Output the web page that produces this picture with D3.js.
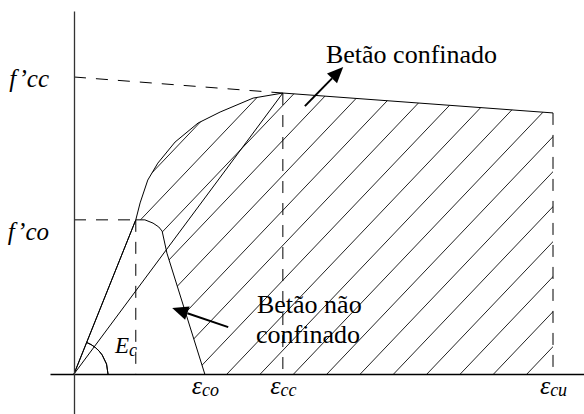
<!DOCTYPE html>
<html>
<head>
<meta charset="utf-8">
<script src="https://cdn.jsdelivr.net/npm/d3@7"></script>
<style>
  html, body { margin: 0; padding: 0; background: #fff; }
  svg { display: block; }
  .curve { fill: none; stroke: #000; stroke-width: 1; }
  .hatch { stroke: #222; stroke-width: 1; }
  .guide { fill: none; stroke: #000; stroke-width: 1; stroke-dasharray: 12 10; }
</style>
</head>
<body>
<div id="chart"></div>
<script>
// Values (strain and stress in relative units, 100 = eps_cu / f'cc)
const confinedStrain = [0, 12.9, 13.8, 15.4, 17.5, 21.1, 25.9, 30.5, 37.4, 43.6, 100];
const confinedStress = [0, 51.9, 57.6, 65.3, 71.0, 78.1, 84.5, 88.2, 92.9, 94.6, 87.9];
const unconfinedStrain = [0, 12.9, 14.8, 16.5, 17.7, 18.4, 19.4, 27.3];
const unconfinedStress = [0, 51.9, 51.9, 50.8, 49.5, 48.1, 40.7, 0];

const strainTicks = [27.3, 43.6, 100];
const strainLabels = [['ε', 'co'], ['ε', 'cc'], ['ε', 'cu']];
const stressTicks = [100, 51.9];
const stressLabels = ['f’cc', 'f’co'];

const peakStrain = 43.6, peakStress = 94.6;       // eps_cc, top of the confined curve
const fcoStrain = 12.9, fcoStress = 51.9;         // top of the unconfined curve
const fccLevel = 100;
const endStrain = 100, endStress = 87.9;

const width = 584, height = 414;
const serif = "'Liberation Serif'";

const x = d3.scaleLinear().domain([0, 100]).range([74, 553]);
const y = d3.scaleLinear().domain([0, 100]).range([374, 77]);

const svg = d3.select('#chart').append('svg')
    .attr('width', width)
    .attr('height', height);

const toPts = (xs, ys) => xs.map((d, i) => [d, ys[i]]);
const confined = toPts(confinedStrain, confinedStress);
const unconfined = toPts(unconfinedStrain, unconfinedStress);

const line = d3.line().x(d => x(d[0])).y(d => y(d[1]));

// Hatched zone between the two curves
const zone = confined.concat([[endStrain, 0]], unconfined.slice().reverse());
svg.append('clipPath').attr('id', 'zone')
    .append('path').attr('d', line(zone) + 'Z');

const hatchStart = x(31.94), hatchStep = 33.33, hatchSlope = 1.05;
const hatch = svg.append('g').attr('clip-path', 'url(#zone)');
for (let k = -9; k <= 10; k++) {
    const b = hatchStart + k * hatchStep;
    hatch.append('line')
        .attr('class', 'hatch')
        .attr('x1', b).attr('y1', y(0))
        .attr('x2', b + 420 / hatchSlope).attr('y2', y(0) - 420);
}

// Dashed guides
const guides = [
    [[0, fccLevel], [peakStrain, peakStress]],
    [[0, fcoStress], [fcoStrain, fcoStress]],
    [[fcoStrain, fcoStress], [fcoStrain, 0]],
    [[peakStrain, peakStress], [peakStrain, 0]],
    [[endStrain, endStress], [endStrain, 0]]
];
svg.selectAll('.guide').data(guides).join('path')
    .attr('class', 'guide')
    .attr('d', line);

// Curves
svg.append('path').attr('class', 'curve').attr('d', line(confined));
svg.append('path').attr('class', 'curve').attr('d', line(unconfined));
svg.append('path').attr('class', 'curve')
    .attr('d', line([[0, 0], [peakStrain, peakStress]]));

// Ec angle arc
const ecAngle = Math.atan2(y(0) - y(fcoStress), x(fcoStrain) - x(0));
const arc = d3.arc().innerRadius(34).outerRadius(34)
    .startAngle(Math.PI / 2 - ecAngle).endAngle(Math.PI / 2);
svg.append('path').attr('class', 'curve')
    .attr('transform', `translate(${x(0)},${y(0)})`)
    .attr('d', arc());

const ec = svg.append('text')
    .style('font-family', serif).style('font-style', 'italic')
    .attr('x', x(0) + 41).attr('y', y(0) - 21);
ec.append('tspan').style('font-size', '23px').text('E');
ec.append('tspan').style('font-size', '18px').attr('dy', 3).text('c');

// Axes
const xAxisScale = x.copy().domain([x.invert(50), x.invert(width)]).range([50, width]);
const yAxisScale = y.copy().domain([y.invert(height), y.invert(11)]).range([height, 11]);

const gx = svg.append('g')
    .attr('transform', `translate(0,${y(0)})`)
    .call(d3.axisBottom(xAxisScale).tickValues(strainTicks).tickSize(0).tickSizeOuter(0).tickFormat(''));
gx.select('.domain').attr('stroke', '#000').attr('stroke-width', 1.6);
gx.selectAll('.tick text')
    .style('font-family', serif)
    .style('font-style', 'italic')
    .attr('fill', '#000')
    .attr('y', 20)
    .attr('dy', 0)
    .each(function (d) {
        const lab = strainLabels[strainTicks.indexOf(d)];
        const t = d3.select(this);
        t.append('tspan').style('font-size', '26px').text(lab[0]);
        t.append('tspan').style('font-size', '18px').attr('dy', 2).text(lab[1]);
    });

const yNudge = { 'f’cc': 9, 'f’co': 20 };
const gy = svg.append('g')
    .attr('transform', `translate(${x(0)},0)`)
    .call(d3.axisLeft(yAxisScale).tickValues(stressTicks).tickSize(0).tickSizeOuter(0).tickPadding(25)
        .tickFormat(d => stressLabels[stressTicks.indexOf(d)]));
gy.select('.domain').attr('stroke', '#333').attr('stroke-width', 1.3);
gy.selectAll('.tick text')
    .style('font-family', serif)
    .style('font-style', 'italic')
    .style('font-size', '25px')
    .attr('fill', '#000')
    .attr('dy', 0)
    .attr('y', d => yNudge[stressLabels[stressTicks.indexOf(d)]]);

// Annotations with arrows
function arrow(from, to) {
    const x0 = x(from[0]), y0 = y(from[1]), x1 = x(to[0]), y1 = y(to[1]);
    const a = Math.atan2(y1 - y0, x1 - x0), len = 16, half = 7;
    const bx = x1 - len * Math.cos(a), by = y1 - len * Math.sin(a);
    svg.append('line')
        .attr('x1', x0).attr('y1', y0).attr('x2', bx).attr('y2', by)
        .attr('stroke', '#000').attr('stroke-width', 2);
    svg.append('path')
        .attr('d', d3.line()([
            [x1, y1],
            [bx + half * Math.sin(a), by - half * Math.cos(a)],
            [bx - half * Math.sin(a), by + half * Math.cos(a)]
        ]) + 'Z')
        .attr('fill', '#000');
}

arrow([48.2, 90.2], [56.2, 103.4]);
svg.append('text')
    .style('font-family', serif).style('font-size', '26px')
    .attr('x', x(52.6)).attr('y', y(104.7))
    .text('Betão confinado');

arrow([32.2, 15.8], [20.5, 22.2]);
const un = svg.append('text')
    .style('font-family', serif).style('font-size', '26px')
    .attr('x', x(38.2)).attr('y', y(20.5));
un.append('tspan').text('Betão não');
un.append('tspan').attr('x', x(38.0)).attr('dy', 30).text('confinado');
</script>
</body>
</html>
